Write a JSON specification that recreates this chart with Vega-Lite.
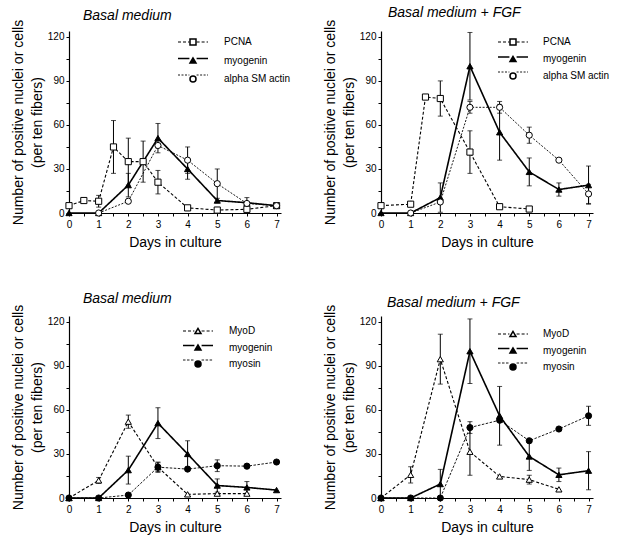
{
  "$schema": "https://vega.github.io/schema/vega-lite/v6.json",
  "background": "white",
  "padding": {"left": 11, "top": 6, "right": 2, "bottom": 2},
  "datasets": {
    "p1": [
      {"d":0,"v":5,"e":0,"s":"PCNA"},{"d":0.5,"v":8.5,"e":0,"s":"PCNA"},{"d":1,"v":8,"e":4,"s":"PCNA"},{"d":1.5,"v":45,"e":18,"s":"PCNA"},{"d":2,"v":35,"e":16,"s":"PCNA"},{"d":2.5,"v":35,"e":14,"s":"PCNA"},{"d":3,"v":21,"e":8,"s":"PCNA"},{"d":4,"v":3.5,"e":0,"s":"PCNA"},{"d":5,"v":2,"e":0,"s":"PCNA"},{"d":6,"v":2.5,"e":0,"s":"PCNA"},{"d":7,"v":5,"e":0,"s":"PCNA"},
      {"d":0,"v":0,"e":0,"s":"myogenin"},{"d":1,"v":0,"e":0,"s":"myogenin"},{"d":2,"v":19,"e":8,"s":"myogenin"},{"d":3,"v":51,"e":10,"s":"myogenin"},{"d":4,"v":30,"e":7,"s":"myogenin"},{"d":5,"v":8.5,"e":0,"s":"myogenin"},{"d":6,"v":7,"e":0,"s":"myogenin"},{"d":7,"v":5,"e":0,"s":"myogenin"},
      {"d":1,"v":0,"e":0,"s":"alpha SM actin"},{"d":2,"v":8,"e":0,"s":"alpha SM actin"},{"d":3,"v":46,"e":0,"s":"alpha SM actin"},{"d":4,"v":36,"e":9,"s":"alpha SM actin"},{"d":5,"v":20,"e":10,"s":"alpha SM actin"},{"d":6,"v":6.5,"e":4,"s":"alpha SM actin"},{"d":7,"v":5,"e":0,"s":"alpha SM actin"}
    ],
    "p2": [
      {"d":0,"v":5,"e":0,"s":"PCNA"},{"d":1,"v":6,"e":0,"s":"PCNA"},{"d":1.5,"v":79,"e":0,"s":"PCNA"},{"d":2,"v":78,"e":12,"s":"PCNA"},{"d":3,"v":41.5,"e":14.5,"s":"PCNA"},{"d":4,"v":4.3,"e":0,"s":"PCNA"},{"d":5,"v":2.7,"e":0,"s":"PCNA"},
      {"d":0,"v":0,"e":0,"s":"myogenin"},{"d":1,"v":0,"e":0,"s":"myogenin"},{"d":2,"v":10.5,"e":10,"s":"myogenin"},{"d":3,"v":100,"e":23,"s":"myogenin"},{"d":4,"v":55,"e":19,"s":"myogenin"},{"d":5,"v":28,"e":9.5,"s":"myogenin"},{"d":6,"v":16,"e":4.5,"s":"myogenin"},{"d":7,"v":19,"e":13,"s":"myogenin"},
      {"d":1,"v":0,"e":0,"s":"alpha SM actin"},{"d":2,"v":7.5,"e":0,"s":"alpha SM actin"},{"d":3,"v":72,"e":4,"s":"alpha SM actin"},{"d":4,"v":72,"e":4,"s":"alpha SM actin"},{"d":5,"v":53,"e":5.5,"s":"alpha SM actin"},{"d":6,"v":36,"e":0,"s":"alpha SM actin"},{"d":7,"v":13,"e":6.5,"s":"alpha SM actin"}
    ],
    "p3": [
      {"d":0,"v":0,"e":0,"s":"MyoD"},{"d":1,"v":12,"e":2,"s":"MyoD"},{"d":2,"v":52,"e":4.5,"s":"MyoD"},{"d":3,"v":21,"e":3,"s":"MyoD"},{"d":4,"v":2.5,"e":0,"s":"MyoD"},{"d":5,"v":3,"e":0,"s":"MyoD"},{"d":6,"v":3,"e":0,"s":"MyoD"},
      {"d":0,"v":0,"e":0,"s":"myogenin"},{"d":1,"v":0,"e":0,"s":"myogenin"},{"d":2,"v":19,"e":9.5,"s":"myogenin"},{"d":3,"v":51,"e":10.5,"s":"myogenin"},{"d":4,"v":30,"e":9,"s":"myogenin"},{"d":5,"v":8.5,"e":4.5,"s":"myogenin"},{"d":6,"v":7.2,"e":4,"s":"myogenin"},{"d":7,"v":5.4,"e":0,"s":"myogenin"},
      {"d":0,"v":0,"e":0,"s":"myosin"},{"d":1,"v":0,"e":0,"s":"myosin"},{"d":2,"v":2,"e":0,"s":"myosin"},{"d":3,"v":21,"e":3.5,"s":"myosin"},{"d":4,"v":19.7,"e":0,"s":"myosin"},{"d":5,"v":22,"e":4,"s":"myosin"},{"d":6,"v":21.7,"e":0,"s":"myosin"},{"d":7,"v":24.5,"e":0,"s":"myosin"}
    ],
    "p4": [
      {"d":0,"v":0,"e":0,"s":"MyoD"},{"d":1,"v":15.8,"e":5.5,"s":"MyoD"},{"d":2,"v":94.6,"e":17,"s":"MyoD"},{"d":3,"v":31.5,"e":16,"s":"MyoD"},{"d":4,"v":14.7,"e":0,"s":"MyoD"},{"d":5,"v":12.5,"e":3,"s":"MyoD"},{"d":6,"v":5.9,"e":0,"s":"MyoD"},
      {"d":0,"v":0,"e":0,"s":"myogenin"},{"d":1,"v":0,"e":0,"s":"myogenin"},{"d":2,"v":9.5,"e":10,"s":"myogenin"},{"d":3,"v":100,"e":22,"s":"myogenin"},{"d":4,"v":56,"e":20,"s":"myogenin"},{"d":5,"v":28.3,"e":9.5,"s":"myogenin"},{"d":6,"v":15.8,"e":4.6,"s":"myogenin"},{"d":7,"v":18.6,"e":13,"s":"myogenin"},
      {"d":0,"v":0,"e":0,"s":"myosin"},{"d":1,"v":0,"e":0,"s":"myosin"},{"d":2,"v":0,"e":0,"s":"myosin"},{"d":3,"v":48,"e":4,"s":"myosin"},{"d":4,"v":53,"e":0,"s":"myosin"},{"d":5,"v":39,"e":0,"s":"myosin"},{"d":6,"v":47,"e":0,"s":"myosin"},{"d":7,"v":56,"e":6.5,"s":"myosin"}
    ]
  },
  "columns": 2,
  "spacing": {"row": 103, "column": 100},
  "bounds": "flush",
  "concat": [
    {
      "width": 212, "height": 182,
      "data": {"name": "p1"},
      "title": {"text": "Basal medium", "anchor": "start", "frame": "group", "dx": 14, "offset": -4},
      "encoding": {
        "x": {"field": "d", "type": "quantitative", "scale": {"domain": [0, 7.15], "nice": false, "zero": false}, "axis": {"values": [0,0.5,1,1.5,2,2.5,3,3.5,4,4.5,5,5.5,6,6.5,7], "labelExpr": "datum.value % 1 === 0 ? format(datum.value, 'd') : ''", "title": "Days in culture"}},
        "y": {"field": "v", "type": "quantitative", "scale": {"domain": [0, 124], "nice": false}, "axis": {"values": [0,15,30,45,60,75,90,105,120], "labelExpr": "datum.value % 30 === 0 ? datum.label : ''", "title": ["Number of positive nuclei or cells", "(per ten fibers)"]}}
      },
      "layer": [
        {"mark": {"type": "line", "color": "black"},
         "encoding": {
           "strokeDash": {"field": "s", "type": "nominal", "scale": {"domain": ["PCNA","myogenin","alpha SM actin"], "range": [[3,2],[1,0],[2,1.5]]}, "legend": {"title": null, "orient": "none", "legendX": 119, "legendY": 6, "symbolType": "M-3.75,0H-0.9M0.9,0H3.75", "symbolSize": 64, "symbolStrokeColor": "black", "labelExpr": "'\u00a0'", "labelOpacity": 0, "labelFontSize": 10, "labelOffset": 8, "rowPadding": 6.5}},
           "strokeWidth": {"field": "s", "type": "nominal", "scale": {"type": "ordinal", "domain": ["PCNA","myogenin","alpha SM actin"], "range": [1.1,1.6,0.9]}, "legend": {"title": null, "orient": "none", "legendX": 119, "legendY": 6, "symbolType": "M-3.75,0H-0.9M0.9,0H3.75", "symbolSize": 64, "symbolStrokeColor": "black", "labelExpr": "'\u00a0'", "labelOpacity": 0, "labelFontSize": 10, "labelOffset": 8, "rowPadding": 6.5}}
         }},
        {"transform": [{"filter": "datum.e > 0"}], "mark": {"type": "errorbar", "ticks": {"size": 5}, "color": "black", "thickness": 1}, "encoding": {"yError": {"field": "e"}}},
        {"mark": {"type": "point", "filled": true, "stroke": "black", "strokeWidth": 1, "size": 38, "opacity": 1},
         "encoding": {
           "shape": {"field": "s", "type": "nominal", "sort": null, "scale": {"range": ["square","triangle-up","circle"]}, "legend": {"title": null, "orient": "none", "legendX": 119, "legendY": 6, "symbolSize": 36, "labelFontSize": 10, "labelOffset": 26, "rowPadding": 6.5, "zindex": 1, "encode": {"symbols": {"update": {"stroke": {"value": "black"}, "strokeWidth": {"value": 1}}}}}},
           "fill": {"field": "s", "type": "nominal", "sort": null, "scale": {"range": ["white","black","white"]}, "legend": {"title": null, "orient": "none", "legendX": 119, "legendY": 6, "symbolSize": 36, "labelFontSize": 10, "labelOffset": 26, "rowPadding": 6.5, "zindex": 1, "encode": {"symbols": {"update": {"stroke": {"value": "black"}, "strokeWidth": {"value": 1}}}}}}
         }}
      ]
    },
    {
      "width": 212, "height": 182,
      "data": {"name": "p2"},
      "title": {"text": "Basal medium + FGF", "anchor": "start", "frame": "group", "dx": 7, "offset": -1},
      "encoding": {
        "x": {"field": "d", "type": "quantitative", "scale": {"domain": [0, 7.15], "nice": false, "zero": false}, "axis": {"values": [0,0.5,1,1.5,2,2.5,3,3.5,4,4.5,5,5.5,6,6.5,7], "labelExpr": "datum.value % 1 === 0 ? format(datum.value, 'd') : ''", "title": "Days in culture"}},
        "y": {"field": "v", "type": "quantitative", "scale": {"domain": [0, 124], "nice": false}, "axis": {"values": [0,15,30,45,60,75,90,105,120], "labelExpr": "datum.value % 30 === 0 ? datum.label : ''", "title": ["Number of positive nuclei or cells", "(per ten fibers)"]}}
      },
      "layer": [
        {"mark": {"type": "line", "color": "black"},
         "encoding": {
           "strokeDash": {"field": "s", "type": "nominal", "scale": {"domain": ["PCNA","myogenin","alpha SM actin"], "range": [[3,2],[1,0],[2,1.5]]}, "legend": {"title": null, "orient": "none", "legendX": 127, "legendY": 6, "symbolType": "M-3.75,0H-0.9M0.9,0H3.75", "symbolSize": 64, "symbolStrokeColor": "black", "labelExpr": "'\u00a0'", "labelOpacity": 0, "labelFontSize": 10, "labelOffset": 8, "rowPadding": 5}},
           "strokeWidth": {"field": "s", "type": "nominal", "scale": {"type": "ordinal", "domain": ["PCNA","myogenin","alpha SM actin"], "range": [1.1,1.6,0.9]}, "legend": {"title": null, "orient": "none", "legendX": 127, "legendY": 6, "symbolType": "M-3.75,0H-0.9M0.9,0H3.75", "symbolSize": 64, "symbolStrokeColor": "black", "labelExpr": "'\u00a0'", "labelOpacity": 0, "labelFontSize": 10, "labelOffset": 8, "rowPadding": 5}}
         }},
        {"transform": [{"filter": "datum.e > 0"}], "mark": {"type": "errorbar", "ticks": {"size": 5}, "color": "black", "thickness": 1}, "encoding": {"yError": {"field": "e"}}},
        {"mark": {"type": "point", "filled": true, "stroke": "black", "strokeWidth": 1, "size": 38, "opacity": 1},
         "encoding": {
           "shape": {"field": "s", "type": "nominal", "sort": null, "scale": {"range": ["square","triangle-up","circle"]}, "legend": {"title": null, "orient": "none", "legendX": 127, "legendY": 6, "symbolSize": 36, "labelFontSize": 10, "labelOffset": 25, "rowPadding": 5, "zindex": 1, "encode": {"symbols": {"update": {"stroke": {"value": "black"}, "strokeWidth": {"value": 1}}}}}},
           "fill": {"field": "s", "type": "nominal", "sort": null, "scale": {"range": ["white","black","white"]}, "legend": {"title": null, "orient": "none", "legendX": 127, "legendY": 6, "symbolSize": 36, "labelFontSize": 10, "labelOffset": 25, "rowPadding": 5, "zindex": 1, "encode": {"symbols": {"update": {"stroke": {"value": "black"}, "strokeWidth": {"value": 1}}}}}}
         }}
      ]
    },
    {
      "width": 212, "height": 182,
      "data": {"name": "p3"},
      "title": {"text": "Basal medium", "anchor": "start", "frame": "group", "dx": 14, "offset": -2},
      "encoding": {
        "x": {"field": "d", "type": "quantitative", "scale": {"domain": [0, 7.15], "nice": false, "zero": false}, "axis": {"values": [0,0.5,1,1.5,2,2.5,3,3.5,4,4.5,5,5.5,6,6.5,7], "labelExpr": "datum.value % 1 === 0 ? format(datum.value, 'd') : ''", "title": "Days in culture"}},
        "y": {"field": "v", "type": "quantitative", "scale": {"domain": [0, 124], "nice": false}, "axis": {"values": [0,15,30,45,60,75,90,105,120], "labelExpr": "datum.value % 30 === 0 ? datum.label : ''", "title": ["Number of positive nuclei or cells", "(per ten fibers)"]}}
      },
      "layer": [
        {"mark": {"type": "line", "color": "black"},
         "encoding": {
           "strokeDash": {"field": "s", "type": "nominal", "scale": {"domain": ["MyoD","myogenin","myosin"], "range": [[3,2],[1,0],[2.5,1.5]]}, "legend": {"title": null, "orient": "none", "legendX": 124, "legendY": 10, "symbolType": "M-3.75,0H-0.9M0.9,0H3.75", "symbolSize": 64, "symbolStrokeColor": "black", "labelExpr": "'\u00a0'", "labelOpacity": 0, "labelFontSize": 10, "labelOffset": 8, "rowPadding": 4.5}},
           "strokeWidth": {"field": "s", "type": "nominal", "scale": {"type": "ordinal", "domain": ["MyoD","myogenin","myosin"], "range": [1.1,1.6,0.9]}, "legend": {"title": null, "orient": "none", "legendX": 124, "legendY": 10, "symbolType": "M-3.75,0H-0.9M0.9,0H3.75", "symbolSize": 64, "symbolStrokeColor": "black", "labelExpr": "'\u00a0'", "labelOpacity": 0, "labelFontSize": 10, "labelOffset": 8, "rowPadding": 4.5}}
         }},
        {"transform": [{"filter": "datum.e > 0"}], "mark": {"type": "errorbar", "ticks": {"size": 5}, "color": "black", "thickness": 1}, "encoding": {"yError": {"field": "e"}}},
        {"mark": {"type": "point", "filled": true, "stroke": "black", "strokeWidth": 1, "size": 38, "opacity": 1},
         "encoding": {
           "shape": {"field": "s", "type": "nominal", "sort": null, "scale": {"range": ["triangle-up","triangle-up","circle"]}, "legend": {"title": null, "orient": "none", "legendX": 124, "legendY": 10, "symbolSize": 36, "labelFontSize": 10, "labelOffset": 26, "rowPadding": 4.5, "zindex": 1, "encode": {"symbols": {"update": {"stroke": {"value": "black"}, "strokeWidth": {"value": 1}}}}}},
           "fill": {"field": "s", "type": "nominal", "sort": null, "scale": {"range": ["white","black","black"]}, "legend": {"title": null, "orient": "none", "legendX": 124, "legendY": 10, "symbolSize": 36, "labelFontSize": 10, "labelOffset": 26, "rowPadding": 4.5, "zindex": 1, "encode": {"symbols": {"update": {"stroke": {"value": "black"}, "strokeWidth": {"value": 1}}}}}}
         }}
      ]
    },
    {
      "width": 212, "height": 182,
      "data": {"name": "p4"},
      "title": {"text": "Basal medium + FGF", "anchor": "start", "frame": "group", "dx": 6, "offset": -6},
      "encoding": {
        "x": {"field": "d", "type": "quantitative", "scale": {"domain": [0, 7.15], "nice": false, "zero": false}, "axis": {"values": [0,0.5,1,1.5,2,2.5,3,3.5,4,4.5,5,5.5,6,6.5,7], "labelExpr": "datum.value % 1 === 0 ? format(datum.value, 'd') : ''", "title": "Days in culture"}},
        "y": {"field": "v", "type": "quantitative", "scale": {"domain": [0, 124], "nice": false}, "axis": {"values": [0,15,30,45,60,75,90,105,120], "labelExpr": "datum.value % 30 === 0 ? datum.label : ''", "title": ["Number of positive nuclei or cells", "(per ten fibers)"]}}
      },
      "layer": [
        {"mark": {"type": "line", "color": "black"},
         "encoding": {
           "strokeDash": {"field": "s", "type": "nominal", "scale": {"domain": ["MyoD","myogenin","myosin"], "range": [[3,2],[1,0],[2.5,1.5]]}, "legend": {"title": null, "orient": "none", "legendX": 127, "legendY": 13, "symbolType": "M-3.75,0H-0.9M0.9,0H3.75", "symbolSize": 64, "symbolStrokeColor": "black", "labelExpr": "'\u00a0'", "labelOpacity": 0, "labelFontSize": 10, "labelOffset": 8, "rowPadding": 4.5}},
           "strokeWidth": {"field": "s", "type": "nominal", "scale": {"type": "ordinal", "domain": ["MyoD","myogenin","myosin"], "range": [1.1,1.6,0.9]}, "legend": {"title": null, "orient": "none", "legendX": 127, "legendY": 13, "symbolType": "M-3.75,0H-0.9M0.9,0H3.75", "symbolSize": 64, "symbolStrokeColor": "black", "labelExpr": "'\u00a0'", "labelOpacity": 0, "labelFontSize": 10, "labelOffset": 8, "rowPadding": 4.5}}
         }},
        {"transform": [{"filter": "datum.e > 0"}], "mark": {"type": "errorbar", "ticks": {"size": 5}, "color": "black", "thickness": 1}, "encoding": {"yError": {"field": "e"}}},
        {"mark": {"type": "point", "filled": true, "stroke": "black", "strokeWidth": 1, "size": 38, "opacity": 1},
         "encoding": {
           "shape": {"field": "s", "type": "nominal", "sort": null, "scale": {"range": ["triangle-up","triangle-up","circle"]}, "legend": {"title": null, "orient": "none", "legendX": 127, "legendY": 13, "symbolSize": 36, "labelFontSize": 10, "labelOffset": 25, "rowPadding": 4.5, "zindex": 1, "encode": {"symbols": {"update": {"stroke": {"value": "black"}, "strokeWidth": {"value": 1}}}}}},
           "fill": {"field": "s", "type": "nominal", "sort": null, "scale": {"range": ["white","black","black"]}, "legend": {"title": null, "orient": "none", "legendX": 127, "legendY": 13, "symbolSize": 36, "labelFontSize": 10, "labelOffset": 25, "rowPadding": 4.5, "zindex": 1, "encode": {"symbols": {"update": {"stroke": {"value": "black"}, "strokeWidth": {"value": 1}}}}}}
         }}
      ]
    }
  ],
  "resolve": {
    "scale": {"shape": "independent", "fill": "independent", "strokeDash": "independent", "strokeWidth": "independent"},
    "legend": {"shape": "independent", "fill": "independent", "strokeDash": "independent", "strokeWidth": "independent"}
  },
  "config": {
    "font": "Liberation Sans",
    "view": {"stroke": null},
    "title": {"font": "Liberation Sans", "fontSize": 14, "fontStyle": "italic", "fontWeight": "normal", "color": "black"},
    "axis": {"grid": false, "domainColor": "black", "domainWidth": 1.2, "tickColor": "black", "tickSize": 3, "labelColor": "black", "titleColor": "black", "labelFont": "Liberation Sans", "titleFont": "Liberation Sans", "labelFontSize": 10, "titleFontSize": 14, "titleFontWeight": "normal", "labelFlush": false, "labelOverlap": false},
    "axisX": {"labelPadding": 3, "titlePadding": 6},
    "axisY": {"labelPadding": 2, "titlePadding": 3, "titleLineHeight": 19},
    "legend": {"labelFont": "Liberation Sans", "labelColor": "black", "padding": 0}
  }
}
